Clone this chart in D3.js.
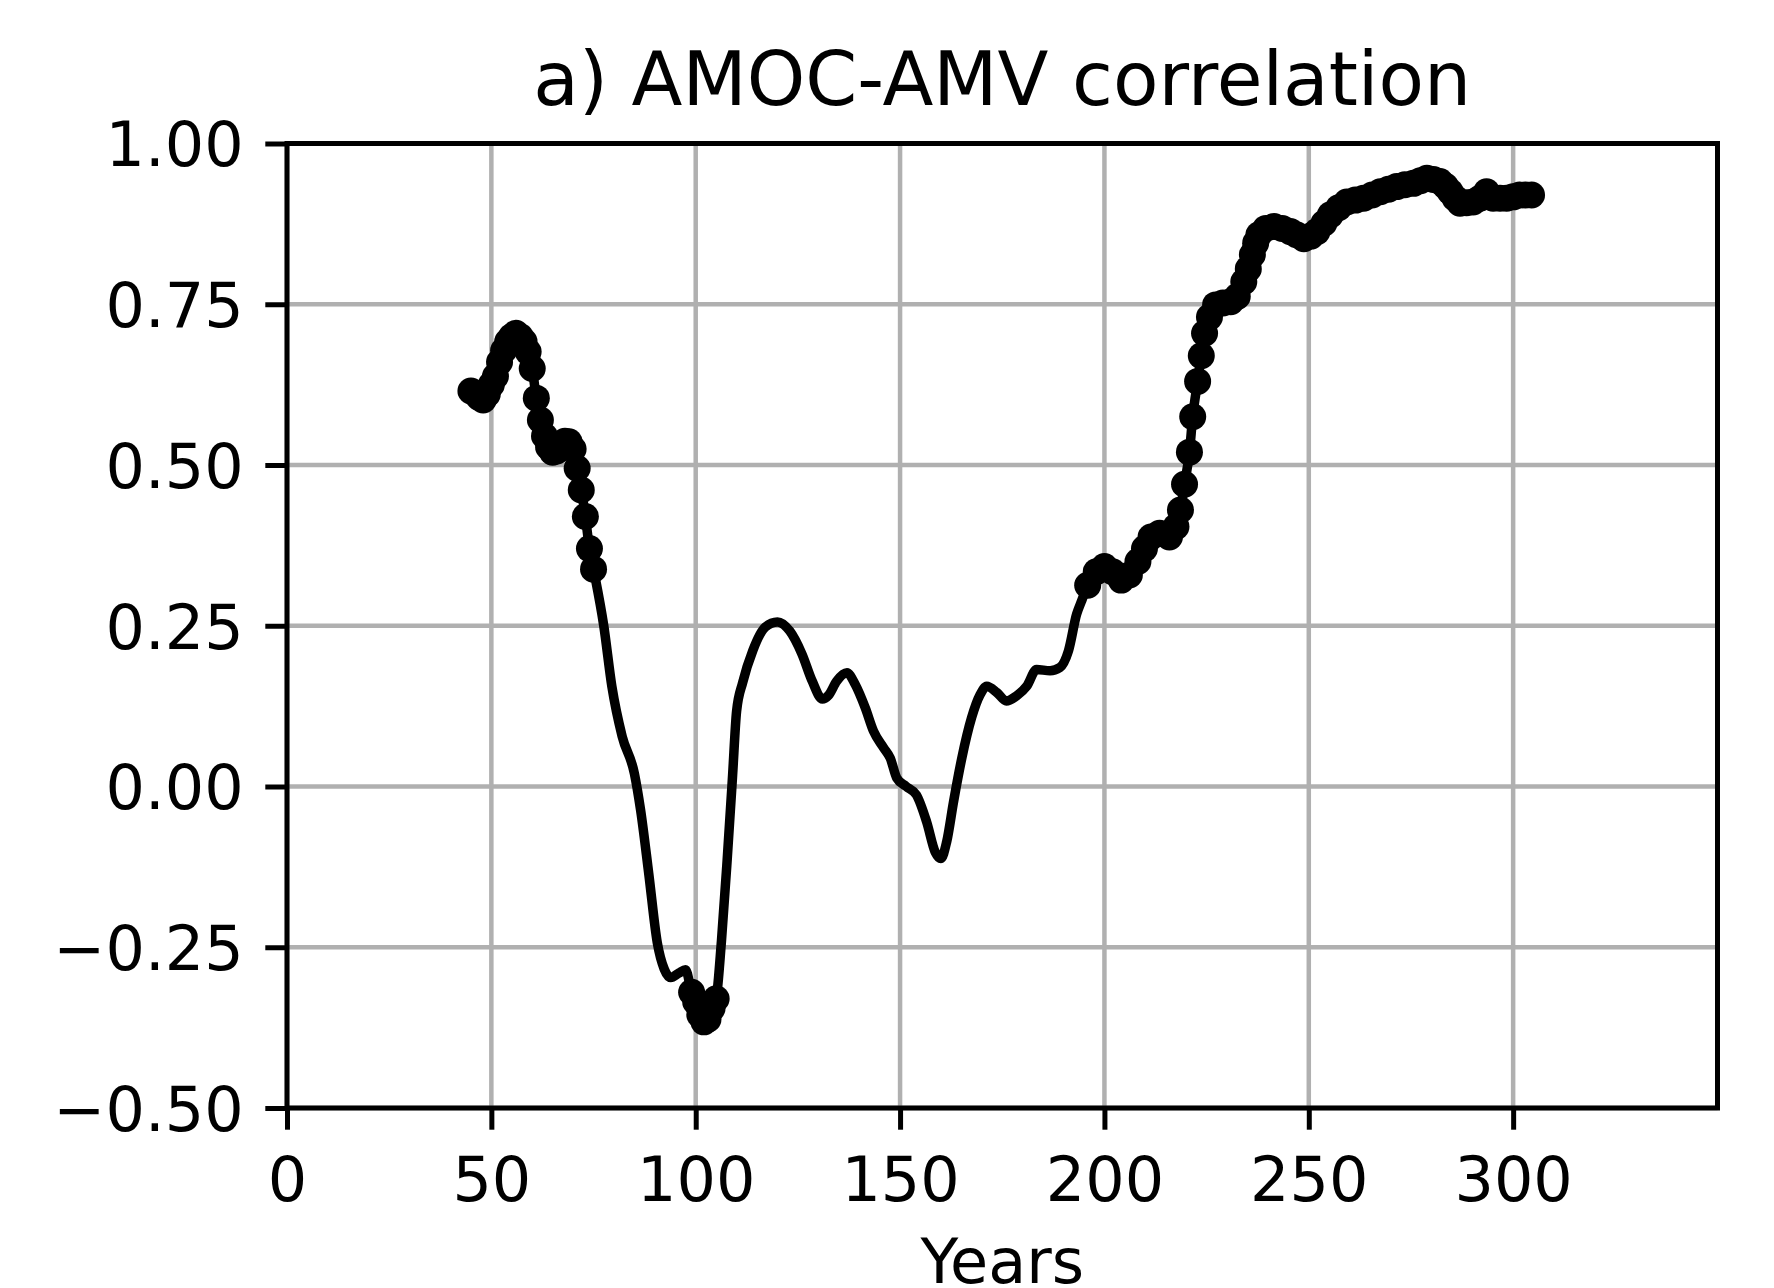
<!DOCTYPE html>
<html>
<head>
<meta charset="utf-8">
<script src="https://cdn.jsdelivr.net/npm/d3@7"></script>
<style>
  body { margin: 0; background: #ffffff; }
  svg { display: block; font-family: "DejaVu Sans", sans-serif; }
</style>
</head>
<body>
<svg id="chart" width="1774" height="1288"></svg>
<script>
// DATA
var years = [
  45, 46, 47, 48, 49, 50, 51, 52, 53, 54, 55, 56, 57, 58, 59, 60,
  61, 62, 63, 64, 65, 66, 67, 68, 69, 70, 71, 72, 73, 74, 75,
  77.5, 79.5, 82, 85, 86.5, 88.5, 90.6, 92.3, 93.9, 95.9, 97.5,
  99, 100, 101, 102, 103, 104, 105,
  106.3, 107.7, 109, 110, 111.5, 114, 117, 120, 123, 126, 128.5, 131, 132.5,
  134.5, 137, 139, 141.5, 143.5, 146, 147.6, 149.2, 151.5, 154, 156.5,
  158.6, 160, 161.4, 163.1, 165.1, 167.5, 169.6, 171.2, 173.7, 176, 178.5,
  181, 183.4, 186.7, 189.1, 191.2, 193.2, 194.5,
  195.9, 198, 200, 202, 204.1, 206.1, 208.2, 209.8, 211.4, 213.5, 215.9,
  217.5, 218.6, 219.6, 220.8, 221.6, 222.8, 223.7, 224.5, 225.7,
  227.2, 229, 230.9, 232.5, 234.1, 235.2, 236.2, 237, 237.8, 239.5, 241.5,
  243.5, 245.5, 247, 248.8, 250.5, 252, 253.7, 255.3, 257.3, 259.3, 261.4,
  263.4, 265.5, 267.5, 269.5, 271.5, 273.5, 275.6, 277.3, 278.9, 280.5,
  282.1, 283.4, 284.6, 285.8, 287, 288.6, 290.2, 291.9, 293.5, 295.1,
  296.8, 298.4, 300, 301.6, 303, 304.5
];

var corr = [
  0.615, 0.612, 0.605, 0.601, 0.610, 0.625, 0.638, 0.660, 0.678, 0.692, 0.700, 0.705, 0.700, 0.692, 0.676, 0.650,
  0.604, 0.570, 0.545, 0.528, 0.520, 0.522, 0.532, 0.537, 0.536, 0.525, 0.495, 0.461, 0.420, 0.370, 0.338,
  0.250, 0.155, 0.078, 0.020, -0.036, -0.135, -0.243, -0.284, -0.297, -0.290, -0.285,
  -0.320, -0.335, -0.355, -0.366, -0.362, -0.345, -0.330,
  -0.240, -0.114, 0.015, 0.117, 0.162, 0.212, 0.248, 0.256, 0.242, 0.206, 0.164, 0.136, 0.142,
  0.164, 0.177, 0.159, 0.122, 0.086, 0.060, 0.044, 0.013, 0.000, -0.013, -0.055,
  -0.102, -0.112, -0.086, -0.023, 0.044, 0.107, 0.143, 0.156, 0.146, 0.133, 0.141,
  0.156, 0.182, 0.180, 0.185, 0.211, 0.268, 0.290,
  0.313, 0.334, 0.342, 0.334, 0.321, 0.329, 0.350, 0.370, 0.388, 0.394, 0.388,
  0.404, 0.430, 0.470, 0.520, 0.575, 0.630, 0.670, 0.705, 0.730,
  0.749, 0.752, 0.754, 0.762, 0.785, 0.805, 0.827, 0.845, 0.858, 0.868, 0.871,
  0.868, 0.863, 0.858, 0.852, 0.856, 0.863, 0.876, 0.889, 0.900, 0.909, 0.912,
  0.915, 0.920, 0.925, 0.929, 0.933, 0.936, 0.938, 0.942, 0.946, 0.944,
  0.941, 0.934, 0.925, 0.915, 0.907, 0.908, 0.909, 0.915, 0.925, 0.915,
  0.915, 0.915, 0.917, 0.920, 0.920, 0.920
];

// year spans where the correlation is marked as significant (dots)
var sigRanges = [[44, 76], [98.5, 105.5], [195, 306]];

var xTicks = [0, 50, 100, 150, 200, 250, 300];
var yTicks = [-0.5, -0.25, 0, 0.25, 0.5, 0.75, 1.0];

var titleText = "a) AMOC-AMV correlation";
var xLabelText = "Years";

// LAYOUT
var svg = d3.select("#chart");
var plot_left = 287, plot_right = 1717.5, plot_top = 143.5, plot_bottom = 1108;
var tick_len = 21.7;
var font_size = 62;

var xScale = d3.scaleLinear().domain([0, 350]).range([plot_left, plot_right]);
var yScale = d3.scaleLinear().domain([-0.5, 1.0]).range([plot_bottom, plot_top]);

svg.append("rect")
  .attr("x", 0).attr("y", 0).attr("width", 1774).attr("height", 1288)
  .attr("fill", "#ffffff");

// GRID
var grid = svg.append("g").attr("stroke", "#b0b0b0").attr("stroke-width", 4.5);
grid.selectAll("line.vg")
  .data(xTicks)
  .enter().append("line")
  .attr("class", "vg")
  .attr("x1", d => xScale(d)).attr("x2", d => xScale(d))
  .attr("y1", plot_top).attr("y2", plot_bottom);
grid.selectAll("line.hg")
  .data(yTicks)
  .enter().append("line")
  .attr("class", "hg")
  .attr("x1", plot_left).attr("x2", plot_right)
  .attr("y1", d => yScale(d)).attr("y2", d => yScale(d));

// DATA LINE
var points = years.map((yr, i) => ({ yr: yr, v: corr[i] }));

var line = d3.line()
  .curve(d3.curveMonotoneX)
  .x(d => xScale(d.yr))
  .y(d => yScale(d.v));

svg.append("path")
  .datum(points)
  .attr("d", line)
  .attr("fill", "none")
  .attr("stroke", "#000000")
  .attr("stroke-width", 9.5)
  .attr("stroke-linejoin", "round")
  .attr("stroke-linecap", "round");

// significant points
var sigPoints = points.filter(d => sigRanges.some(r => d.yr >= r[0] && d.yr <= r[1]));

svg.selectAll("circle.sig")
  .data(sigPoints)
  .enter().append("circle")
  .attr("class", "sig")
  .attr("cx", d => xScale(d.yr))
  .attr("cy", d => yScale(d.v))
  .attr("r", 13.5)
  .attr("fill", "#000000");

// AXES
var xAxis = d3.axisBottom(xScale)
  .tickValues(xTicks)
  .tickSize(tick_len)
  .tickSizeOuter(0)
  .tickPadding(27)
  .tickFormat(d3.format("d"));

var yAxis = d3.axisLeft(yScale)
  .tickValues(yTicks)
  .tickSize(tick_len)
  .tickSizeOuter(0)
  .tickPadding(21.7)
  .tickFormat(d3.format(".2f"));

var gx = svg.append("g")
  .attr("transform", "translate(0," + plot_bottom + ")")
  .call(xAxis);
var gy = svg.append("g")
  .attr("transform", "translate(" + plot_left + ",0)")
  .call(yAxis);

[gx, gy].forEach(g => {
  g.select(".domain").remove();
  g.selectAll(".tick line").attr("stroke", "#000000").attr("stroke-width", 5);
  g.selectAll(".tick text")
    .attr("fill", "#000000")
    .style("font-size", font_size + "px")
    .style("font-family", "'DejaVu Sans', sans-serif");
});
gy.selectAll(".tick text").attr("dy", "0.36em");

// frame
svg.append("rect")
  .attr("x", plot_left).attr("y", plot_top)
  .attr("width", plot_right - plot_left).attr("height", plot_bottom - plot_top)
  .attr("fill", "none")
  .attr("stroke", "#000000")
  .attr("stroke-width", 5);

// TITLE + LABEL
svg.append("text")
  .attr("x", (plot_left + plot_right) / 2)
  .attr("y", 105)
  .attr("text-anchor", "middle")
  .style("font-size", "74.4px")
  .text(titleText);

svg.append("text")
  .attr("x", (plot_left + plot_right) / 2)
  .attr("y", 1283)
  .attr("text-anchor", "middle")
  .style("font-size", font_size + "px")
  .text(xLabelText);
</script>
</body>
</html>
